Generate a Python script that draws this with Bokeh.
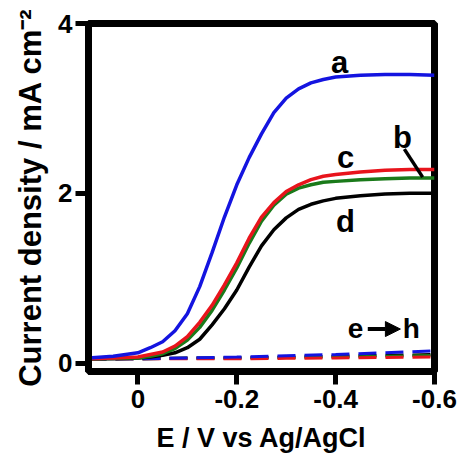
from bokeh.plotting import figure
from bokeh.models import Range1d, FixedTicker, CustomJSTickFormatter, Arrow, NormalHead
from bokeh.core.properties import value
from bokeh.embed import file_html
from bokeh.resources import INLINE

# ---- data (potential in V vs Ag/AgCl, current density in mA cm^-2) ----
E = [0.1, 0.05, 0.0, -0.025, -0.05, -0.075, -0.1, -0.125, -0.15, -0.175, -0.2,
     -0.225, -0.25, -0.275, -0.3, -0.325, -0.35, -0.375, -0.4, -0.45, -0.5, -0.55, -0.6]
curve_a = [0.06, 0.08, 0.12, 0.18, 0.25, 0.38, 0.58, 0.90, 1.30, 1.72, 2.10,
           2.42, 2.70, 2.95, 3.12, 3.23, 3.30, 3.34, 3.37, 3.39, 3.40, 3.40, 3.39]
curve_b = [0.05, 0.055, 0.06, 0.08, 0.11, 0.17, 0.27, 0.42, 0.62, 0.86, 1.12,
           1.41, 1.67, 1.86, 1.99, 2.06, 2.10, 2.13, 2.14, 2.16, 2.17, 2.18, 2.18]
curve_c = [0.05, 0.06, 0.07, 0.10, 0.13, 0.20, 0.31, 0.48, 0.68, 0.92, 1.18,
           1.47, 1.72, 1.89, 2.02, 2.10, 2.16, 2.20, 2.22, 2.25, 2.27, 2.28, 2.28]
curve_d = [0.05, 0.05, 0.06, 0.07, 0.09, 0.12, 0.18, 0.28, 0.45, 0.64, 0.86,
           1.13, 1.38, 1.57, 1.71, 1.81, 1.87, 1.91, 1.94, 1.97, 1.99, 2.00, 2.00]

E_dash = [0.1, 0.0, -0.1, -0.2, -0.3, -0.4, -0.5, -0.6]
curve_e = [0.05, 0.05, 0.06, 0.06, 0.07, 0.08, 0.09, 0.10]   # black dashed
curve_f = [0.05, 0.05, 0.055, 0.06, 0.065, 0.07, 0.08, 0.09]  # green dashed
curve_g = [0.05, 0.05, 0.05, 0.05, 0.055, 0.06, 0.065, 0.07]  # red dashed
curve_h = [0.05, 0.05, 0.06, 0.07, 0.085, 0.10, 0.12, 0.145]  # blue dashed

x_ticks = [0, -0.2, -0.4, -0.6]
y_ticks = [0, 2, 4]

FONT = "Liberation Sans"

p = figure(width=465, height=455, output_backend="svg", toolbar_location=None,
           x_range=Range1d(0.1, -0.6), y_range=Range1d(-0.1, 4.0),
           min_border_left=88, min_border_right=31, min_border_top=23, min_border_bottom=84)

p.background_fill_color = "white"
p.border_fill_color = "white"
p.xgrid.visible = False
p.ygrid.visible = False
p.outline_line_color = "black"
p.outline_line_width = 7

for ax in (p.xaxis[0], p.yaxis[0]):
    ax.axis_line_width = 7
    ax.axis_line_color = "black"
    ax.major_tick_line_width = 5
    ax.major_tick_line_color = "black"
    ax.major_tick_in = 0
    ax.major_tick_out = 13
    ax.minor_tick_line_color = None
    ax.major_label_text_font = FONT
    ax.major_label_text_font_style = "bold"
    ax.major_label_text_font_size = "26px"
    ax.major_label_text_color = "black"
    ax.axis_label_text_font = FONT
    ax.axis_label_text_font_style = "bold"
    ax.axis_label_text_color = "black"

p.xaxis.ticker = FixedTicker(ticks=x_ticks)
p.yaxis.ticker = FixedTicker(ticks=y_ticks)
p.xaxis.formatter = CustomJSTickFormatter(code="return tick == 0 ? '0' : tick.toFixed(1);")
p.xaxis.axis_label = "E / V vs Ag/AgCl"
p.yaxis.axis_label = "Current density / mA cm\u207b\u00b2"
p.xaxis.axis_label_text_font_size = "27px"
p.yaxis.axis_label_text_font_size = "31px"
p.xaxis.major_label_standoff = 5
p.yaxis.major_label_standoff = 3
p.xaxis.axis_label_standoff = 12
p.yaxis.axis_label_standoff = 7

# dashed curves e -> h
dash = "18 9"
p.line(E_dash, curve_e, line_color="black", line_width=3, line_dash=dash)
p.line(E_dash, curve_f, line_color="#1a7a1a", line_width=3, line_dash=dash)
p.line(E_dash, curve_g, line_color="#e8141c", line_width=3, line_dash=dash)
p.line(E_dash, curve_h, line_color="#1414e0", line_width=3, line_dash=dash)

# solid curves
p.line(E, curve_d, line_color="black", line_width=3.5)
p.line(E, curve_b, line_color="#1a7a1a", line_width=3.5)
p.line(E, curve_c, line_color="#e8141c", line_width=3.5)
p.line(E, curve_a, line_color="#1414e0", line_width=3.5)

# labels
lab_x = [-0.408, -0.535, -0.42, -0.42]
lab_y = [3.54, 2.66, 2.42, 1.67]
lab_t = ["a", "b", "c", "d"]
p.text(lab_x, lab_y, text=lab_t, text_font=value(FONT), text_font_style="bold",
       text_font_size="31px", text_align="center", text_baseline="alphabetic", text_color="black")

# leader line for b
p.line([-0.539, -0.576], [2.52, 2.19], line_color="black", line_width=3.5)

# e -> h
p.text([-0.44, -0.553], [0.41, 0.41], text=["e", "h"], text_font=value(FONT), text_font_style="bold",
       text_font_size="28px", text_align="center", text_baseline="alphabetic", text_color="black")
p.add_layout(Arrow(end=NormalHead(size=15, fill_color="black", line_color="black"),
                   x_start=-0.465, y_start=0.40, x_end=-0.531, y_end=0.40,
                   line_width=4, line_color="black"))

open("out.html", "w").write(file_html(p, INLINE))
